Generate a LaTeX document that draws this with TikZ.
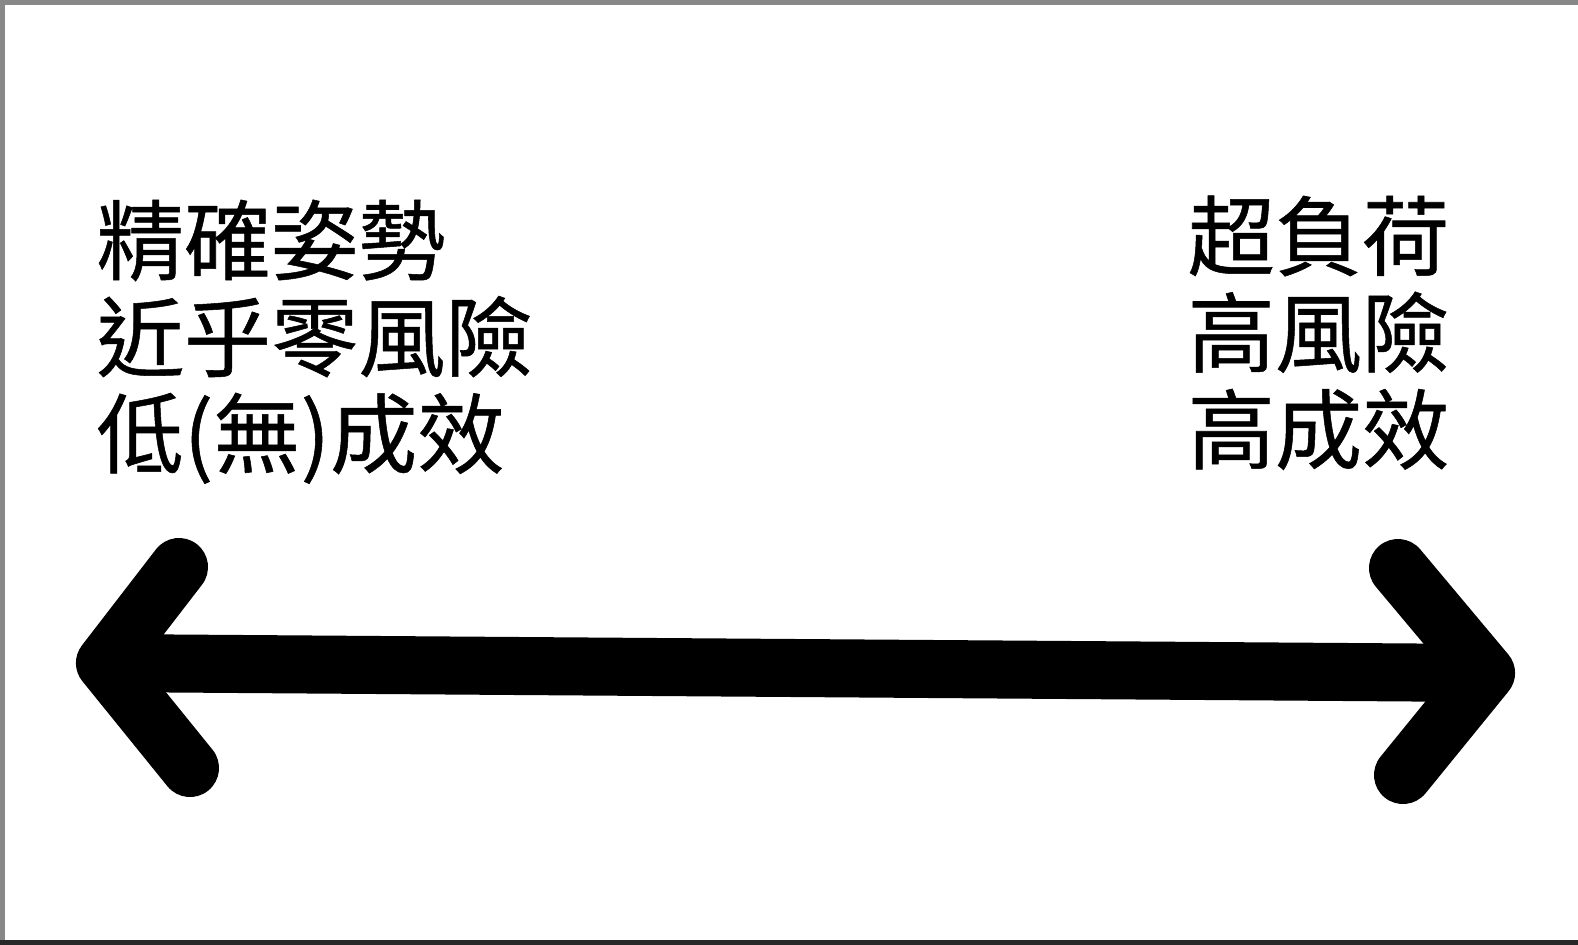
\documentclass[tikz,border=0pt]{standalone}
\usepackage{fontspec}
\usepackage{tikz}
\newfontfamily\cjk[FakeBold=0.6]{Noto Sans CJK TC}
\definecolor{frame}{RGB}{136,136,136}
\definecolor{framedark}{RGB}{40,40,40}

\begin{document}
\begin{tikzpicture}[x=0.01cm, y=-0.01cm,
	lbl/.style={font=\cjk\fontsize{24.8}{27.5}\selectfont, align=left, inner sep=0pt, anchor=north west},
	fat/.style={line width=0.58cm, line cap=round, line join=round}]
	\useasboundingbox (0,0) rectangle (1578,944);
	\fill[white] (0,0) rectangle (1578,944);
	\draw[frame, line width=2pt] (0,1) -- (1578,1) (1,0) -- (1,944);
	\draw[framedark, line width=2pt] (0,943) -- (1578,943);
	% labels
	\node[lbl] (low) at (96,199) {精確姿勢\\近乎零風險\\低(無)成效};
	\node[lbl] (high) at (1187,195) {超負荷\\高風險\\高成效};
	% the double arrow
	\coordinate (ltip) at (105,663);
	\coordinate (rtip) at (1486,673);
	\draw[fat] (179,567) -- (ltip) -- (190,768);
	\draw[fat] (1398,568) -- (rtip) -- (1403,775);
	\draw[fat, line cap=butt] (ltip) -- (rtip);
\end{tikzpicture}
\end{document}
